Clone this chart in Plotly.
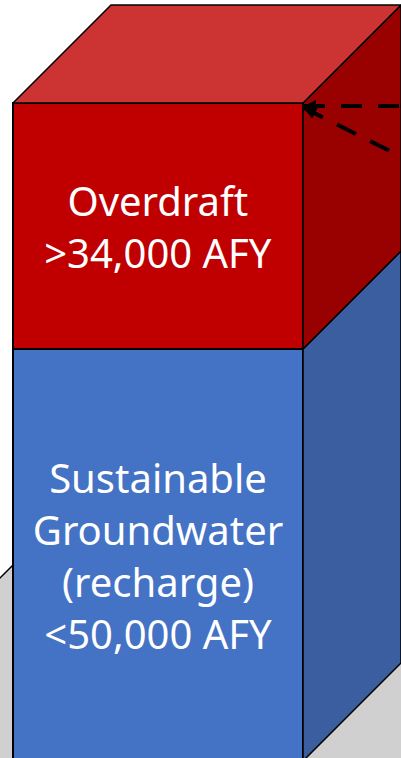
import plotly.graph_objects as go

# ---------------- data ----------------
categories = ["Sustainable Groundwater (recharge)", "Overdraft"]
label_lines = ["Sustainable<br>Groundwater<br>(recharge)", "Overdraft"]
qualifiers = ["&lt;", "&gt;"]
values_afy = [50000, 34000]
units = "AFY"

# ---------------- style / layout constants ----------------
W, H = 401, 758
FRONT_LEFT_PX, FRONT_RIGHT_PX = 13, 303      # front face edges (px)
TOP_PX, SPLIT_PX = 103, 349                  # top of stack, boundary (px)
DEPTH_PX = 98                                # 45 degree extrusion depth (px)
BOTTOM_PX = 761                              # cube bottom (just below crop)

FRONT_BLUE, SIDE_BLUE = "#4472C4", "#3A5E9F"
FRONT_RED, SIDE_RED, TOP_RED = "#C00000", "#990000", "#CC3333"
FLOOR = "#D0D0D0"
FONT = "Noto Sans"

# ---------------- scales derived from data ----------------
boundary = values_afy[0]
top = values_afy[0] + values_afy[1]
sy = (SPLIT_PX - TOP_PX) / values_afy[1]          # px per AFY
sx = FRONT_RIGHT_PX - FRONT_LEFT_PX               # px per bar-width unit
x0 = -0.5 - FRONT_LEFT_PX / sx
x1 = x0 + W / sx
y1 = top + TOP_PX / sy
y0 = y1 - H / sy
cube_bottom = boundary - (BOTTOM_PX - SPLIT_PX) / sy
DX = DEPTH_PX / sx
DY = DEPTH_PX / sy


def px_x(p):
    return x0 + p / sx


def px_y(p):
    return y1 - p / sy


fig = go.Figure()

# front faces (bars)
bases = [cube_bottom, boundary]
lengths = [values_afy[0] - cube_bottom, values_afy[1]]
colors = [FRONT_BLUE, FRONT_RED]
for i in range(2):
    fig.add_trace(go.Bar(
        x=[0], y=[lengths[i]], base=[bases[i]], width=1,
        name=categories[i],
        marker=dict(color=colors[i], line=dict(color="black", width=2)),
        text=[f"{label_lines[i]}<br>{qualifiers[i]}{values_afy[i]:,} {units}"],
        textposition="inside", insidetextanchor="middle", textangle=0,
        insidetextfont=dict(family=FONT, size=40, color="white"),
        hoverinfo="skip",
    ))

# extruded faces
def face(xs, ys, color):
    fig.add_trace(go.Scatter(
        x=xs + [xs[0]], y=ys + [ys[0]], mode="lines", fill="toself",
        fillcolor=color, line=dict(color="black", width=1.5),
        hoverinfo="skip", showlegend=False))

face([0.5, 0.5, 0.5 + DX, 0.5 + DX],
     [cube_bottom, boundary, boundary + DY, cube_bottom + DY], SIDE_BLUE)
face([0.5, 0.5, 0.5 + DX, 0.5 + DX],
     [boundary, top, top + DY, boundary + DY], SIDE_RED)
face([-0.5, 0.5, 0.5 + DX, -0.5 + DX],
     [top, top, top + DY, top + DY], TOP_RED)

# floor plate behind the cube
fx = [px_x(-100), px_x(600), px_x(600), px_x(-100)]
fy = [px_y(678), px_y(-22), px_y(900), px_y(900)]
fig.add_shape(type="path", xref="x", yref="y", layer="below",
              path=f"M {fx[0]},{fy[0]} L {fx[1]},{fy[1]} L {fx[2]},{fy[2]} L {fx[3]},{fy[3]} Z",
              fillcolor=FLOOR, line=dict(color="black", width=1.5))

# dashed pointer lines to the top corner
corner_x = px_x(FRONT_RIGHT_PX + 1)
for (sy_px, ey_px, end_px) in [(106, 106, 520), (108, 108 + 0.5 * 216, 520)]:
    fig.add_trace(go.Scatter(
        x=[corner_x, px_x(end_px)], y=[px_y(sy_px), px_y(ey_px)],
        mode="lines", line=dict(color="black", width=4, dash="21px,16px"),
        hoverinfo="skip", showlegend=False))
    fig.add_annotation(x=corner_x, y=px_y(sy_px), ax=14,
                       ay=(ey_px - sy_px) / 216 * 14, text="",
                       showarrow=True, arrowhead=2, arrowsize=0.8,
                       arrowwidth=3, arrowcolor="black")

fig.update_layout(
    width=W, height=H, margin=dict(l=0, r=0, t=0, b=0),
    paper_bgcolor="white", plot_bgcolor="white",
    barmode="overlay", showlegend=False,
    xaxis=dict(range=[x0, x1], visible=False, fixedrange=True),
    yaxis=dict(range=[y0, y1], visible=False, fixedrange=True),
)

fig.write_html(
    "out.html",
    config={"displayModeBar": False, "staticPlot": True},
    post_script="document.body.style.margin='0';document.body.style.overflow='hidden';",
)
